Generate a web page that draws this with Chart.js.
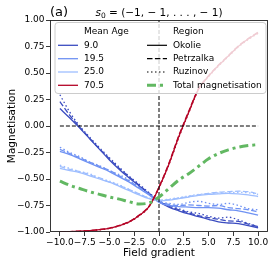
<!DOCTYPE html>
<html><head><meta charset="utf-8">
<script src="https://cdn.jsdelivr.net/npm/chart.js@4"></script>
<style>html,body{margin:0;padding:0;background:#fff;}</style>
</head><body>
<canvas id="c" width="274" height="264" style="width:274px;height:264px;display:block"></canvas>
<script>
const fieldGradient = [-10,-9,-8,-7,-6,-5,-4,-3,-2,-1,0,1,2,3,4,5,6,7,8,9,10];
const xTicks = [-10,-7.5,-5,-2.5,0,2.5,5,7.5,10];
const xTickLabels = ['−10.0','−7.5','−5.0','−2.5','0.0','2.5','5.0','7.5','10.0'];
const yTicks = [-1,-0.75,-0.5,-0.25,0,0.25,0.5,0.75,1];
const yTickLabels = ['−1.00','−0.75','−0.50','−0.25','0.00','0.25','0.50','0.75','1.00'];
const ages = ['9.0','19.5','25.0','70.5'];
const regions = ['Okolie','Petrzalka','Ruzinov'];

const age9_okolie    = [0.165,0.075,-0.02,-0.12,-0.22,-0.32,-0.41,-0.49,-0.565,-0.64,-0.715,-0.765,-0.80,-0.83,-0.855,-0.88,-0.905,-0.915,-0.92,-0.94,-0.96];
const age9_petrzalka = [0.23,0.10,-0.01,-0.115,-0.215,-0.31,-0.40,-0.48,-0.56,-0.635,-0.71,-0.755,-0.79,-0.82,-0.845,-0.865,-0.88,-0.895,-0.90,-0.925,-0.95];
const age9_ruzinov   = [0.295,0.13,0.0,-0.105,-0.205,-0.30,-0.39,-0.475,-0.55,-0.63,-0.705,-0.75,-0.78,-0.81,-0.825,-0.85,-0.87,-0.86,-0.885,-0.92,-0.95];

const age19_okolie    = [-0.24,-0.27,-0.31,-0.35,-0.39,-0.43,-0.48,-0.53,-0.59,-0.65,-0.72,-0.75,-0.76,-0.765,-0.77,-0.77,-0.775,-0.79,-0.80,-0.82,-0.84];
const age19_petrzalka = [-0.22,-0.26,-0.30,-0.34,-0.38,-0.42,-0.47,-0.52,-0.58,-0.645,-0.71,-0.74,-0.75,-0.745,-0.75,-0.755,-0.75,-0.77,-0.78,-0.79,-0.81];
const age19_ruzinov   = [-0.20,-0.25,-0.29,-0.34,-0.375,-0.42,-0.46,-0.51,-0.58,-0.64,-0.71,-0.73,-0.74,-0.72,-0.71,-0.73,-0.74,-0.73,-0.75,-0.78,-0.79];

const age25_okolie    = [-0.40,-0.42,-0.44,-0.47,-0.50,-0.53,-0.57,-0.61,-0.65,-0.685,-0.705,-0.70,-0.685,-0.67,-0.655,-0.645,-0.64,-0.635,-0.64,-0.65,-0.665];
const age25_petrzalka = [-0.38,-0.41,-0.43,-0.46,-0.49,-0.53,-0.56,-0.60,-0.64,-0.68,-0.70,-0.695,-0.68,-0.665,-0.65,-0.635,-0.625,-0.62,-0.615,-0.62,-0.64];
const age25_ruzinov   = [-0.37,-0.40,-0.43,-0.45,-0.49,-0.52,-0.555,-0.60,-0.64,-0.68,-0.70,-0.69,-0.675,-0.66,-0.645,-0.64,-0.63,-0.63,-0.625,-0.63,-0.645];

const age70_okolie    = [-0.999,-0.997,-0.993,-0.987,-0.978,-0.965,-0.94,-0.905,-0.845,-0.76,-0.58,-0.36,-0.10,0.13,0.35,0.47,0.57,0.66,0.75,0.82,0.88];
const age70_petrzalka = [-0.998,-0.996,-0.992,-0.986,-0.977,-0.963,-0.938,-0.90,-0.84,-0.755,-0.575,-0.35,-0.09,0.14,0.355,0.475,0.575,0.665,0.755,0.825,0.885];
const age70_ruzinov   = [-0.999,-0.997,-0.994,-0.988,-0.979,-0.966,-0.942,-0.907,-0.848,-0.762,-0.585,-0.365,-0.11,0.125,0.345,0.465,0.565,0.655,0.745,0.815,0.875];

const totalMagnetisation = [-0.52,-0.56,-0.59,-0.62,-0.645,-0.67,-0.69,-0.715,-0.735,-0.725,-0.67,-0.59,-0.51,-0.45,-0.38,-0.31,-0.26,-0.225,-0.20,-0.185,-0.175];

const refLineX = [-10,10];
const refLineY = [-1,1];

const ageColors = ['#3b4cc0','#6f92f3','#9ebeff','#b40426'];
const greenColor = '#62b862';
const regionDash = [[],[5.5,2.4],[1.5,2.5]];

const seriesByAge = [
  [age9_okolie, age9_petrzalka, age9_ruzinov],
  [age19_okolie, age19_petrzalka, age19_ruzinov],
  [age25_okolie, age25_petrzalka, age25_ruzinov],
  [age70_okolie, age70_petrzalka, age70_ruzinov]
];

const pts = ys => fieldGradient.map((x,i)=>({x:x,y:ys[i]}));
const datasets = [];
seriesByAge.forEach((group, a) => {
  group.forEach((ys, r) => {
    datasets.push({
      label: ages[a] + ' ' + regions[r],
      data: pts(ys),
      borderColor: ageColors[a],
      borderWidth: 1.3,
      borderDash: regionDash[r],
      pointRadius: 0,
      cubicInterpolationMode: 'monotone',
      order: 10 - a
    });
  });
});
datasets.push({label:'h0', data: refLineX.map(x=>({x:x,y:0})), borderColor:'#000', borderWidth:1, borderDash:[4,2], pointRadius:0, order:1});
datasets.push({label:'v0', data: refLineY.map(y=>({x:0,y:y})), borderColor:'#000', borderWidth:1, borderDash:[4,2], pointRadius:0, order:1});
datasets.push({label:'Total magnetisation', data: pts(totalMagnetisation), borderColor: greenColor, borderWidth: 3, borderDash:[9,4,3,4], pointRadius:0, cubicInterpolationMode:'monotone', order:0});

const FONT = 'DejaVu Sans';

const overlay = {
  id: 'overlay',
  afterDraw(chart) {
    const ctx = chart.ctx;
    const a = chart.chartArea;
    ctx.save();
    ctx.strokeStyle = '#222';
    ctx.lineWidth = 0.9;
    ctx.strokeRect(a.left + 0.5, a.top + 0.5, a.right - a.left - 1, a.bottom - a.top - 1);
    ctx.fillStyle = '#000';
    ctx.textBaseline = 'alphabetic';
    ctx.textAlign = 'left';
    ctx.font = '13px "' + FONT + '"';
    ctx.fillText('(a)', 50, 16);
    const rest = ' = (−1, − 1, . . . , − 1)';
    ctx.font = 'italic 10.5px "' + FONT + '"';
    const wS = ctx.measureText('s').width;
    ctx.font = '7.5px "' + FONT + '"';
    const w0 = ctx.measureText('0').width;
    ctx.font = '10.5px "' + FONT + '"';
    const wR = ctx.measureText(rest).width;
    let x0 = 159 - (wS + w0 + wR) / 2;
    ctx.font = 'italic 10.5px "' + FONT + '"';
    ctx.fillText('s', x0, 16);
    ctx.font = '7.5px "' + FONT + '"';
    ctx.fillText('0', x0 + wS, 18);
    ctx.font = '10.5px "' + FONT + '"';
    ctx.fillText(rest, x0 + wS + w0, 16);

    const bx = 55, by = 22.5, bw = 211, bh = 71, rr = 3;
    ctx.beginPath();
    ctx.moveTo(bx + rr, by);
    ctx.lineTo(bx + bw - rr, by);
    ctx.quadraticCurveTo(bx + bw, by, bx + bw, by + rr);
    ctx.lineTo(bx + bw, by + bh - rr);
    ctx.quadraticCurveTo(bx + bw, by + bh, bx + bw - rr, by + bh);
    ctx.lineTo(bx + rr, by + bh);
    ctx.quadraticCurveTo(bx, by + bh, bx, by + bh - rr);
    ctx.lineTo(bx, by + rr);
    ctx.quadraticCurveTo(bx, by, bx + rr, by);
    ctx.closePath();
    ctx.fillStyle = 'rgba(255,255,255,0.8)';
    ctx.fill();
    ctx.strokeStyle = '#cccccc';
    ctx.lineWidth = 1;
    ctx.stroke();

    ctx.font = '9px "' + FONT + '"';
    ctx.textBaseline = 'middle';
    ctx.fillStyle = '#000';
    const rows = [32, 45.3, 58.7, 72, 85.3];
    const col1 = {h0: 58, h1: 78, t: 84};
    const col2 = {h0: 147, h1: 167, t: 173};
    ctx.fillText('Mean Age', col1.t, rows[0]);
    ctx.fillText('Region', col2.t, rows[0]);
    ages.forEach((lab, i) => {
      ctx.beginPath();
      ctx.setLineDash([]);
      ctx.strokeStyle = ageColors[i];
      ctx.lineWidth = 1.3;
      ctx.moveTo(col1.h0, rows[i+1]); ctx.lineTo(col1.h1, rows[i+1]);
      ctx.stroke();
      ctx.fillStyle = '#000';
      ctx.fillText(lab, col1.t, rows[i+1]);
    });
    const regLabels = regions.concat(['Total magnetisation']);
    regLabels.forEach((lab, i) => {
      ctx.beginPath();
      if (i < 3) {
        ctx.setLineDash(regionDash[i]);
        ctx.strokeStyle = '#000';
        ctx.lineWidth = 1.2;
      } else {
        ctx.setLineDash([9,4,3,4]);
        ctx.strokeStyle = greenColor;
        ctx.lineWidth = 3;
      }
      ctx.moveTo(col2.h0, rows[i+1]); ctx.lineTo(col2.h1, rows[i+1]);
      ctx.stroke();
      ctx.setLineDash([]);
      ctx.fillStyle = '#000';
      ctx.fillText(lab, col2.t, rows[i+1]);
    });
    ctx.restore();
  }
};

new Chart(document.getElementById('c'), {
  type: 'line',
  data: { datasets: datasets },
  plugins: [overlay],
  options: {
    responsive: false,
    animation: false,
    devicePixelRatio: 1,
    layout: { padding: { left: 0, right: 6, top: 20, bottom: 0 } },
    plugins: { legend: { display: false }, tooltip: { enabled: false }, title: { display: false } },
    scales: {
      x: {
        type: 'linear', min: -11, max: 11,
        afterBuildTicks: s => { s.ticks = xTicks.map(v => ({ value: v })); },
        afterFit: s => { s.height = 32; },
        ticks: {
          autoSkip: false, maxRotation: 0, minRotation: 0, padding: 1,
          color: '#000', font: { family: FONT, size: 9 },
          callback: v => xTickLabels[xTicks.indexOf(v)]
        },
        grid: { drawOnChartArea: false, drawTicks: true, tickLength: 4, color: '#222', lineWidth: 0.9 },
        border: { display: false },
        title: { display: true, text: 'Field gradient', color: '#000', font: { family: FONT, size: 10.5 }, padding: { top: 0, bottom: 4.7 } }
      },
      y: {
        type: 'linear', min: -1, max: 1,
        afterBuildTicks: s => { s.ticks = yTicks.map(v => ({ value: v })); },
        afterFit: s => { s.width = 50; },
        ticks: {
          padding: 1.5, color: '#000', font: { family: FONT, size: 9 },
          callback: v => yTickLabels[yTicks.indexOf(v)]
        },
        grid: { drawOnChartArea: false, drawTicks: true, tickLength: 4, color: '#222', lineWidth: 0.9 },
        border: { display: false },
        title: { display: true, text: 'Magnetisation', color: '#000', font: { family: FONT, size: 10.5 }, padding: { top: 5.7, bottom: 0 } }
      }
    }
  }
});
</script>
</body></html>
